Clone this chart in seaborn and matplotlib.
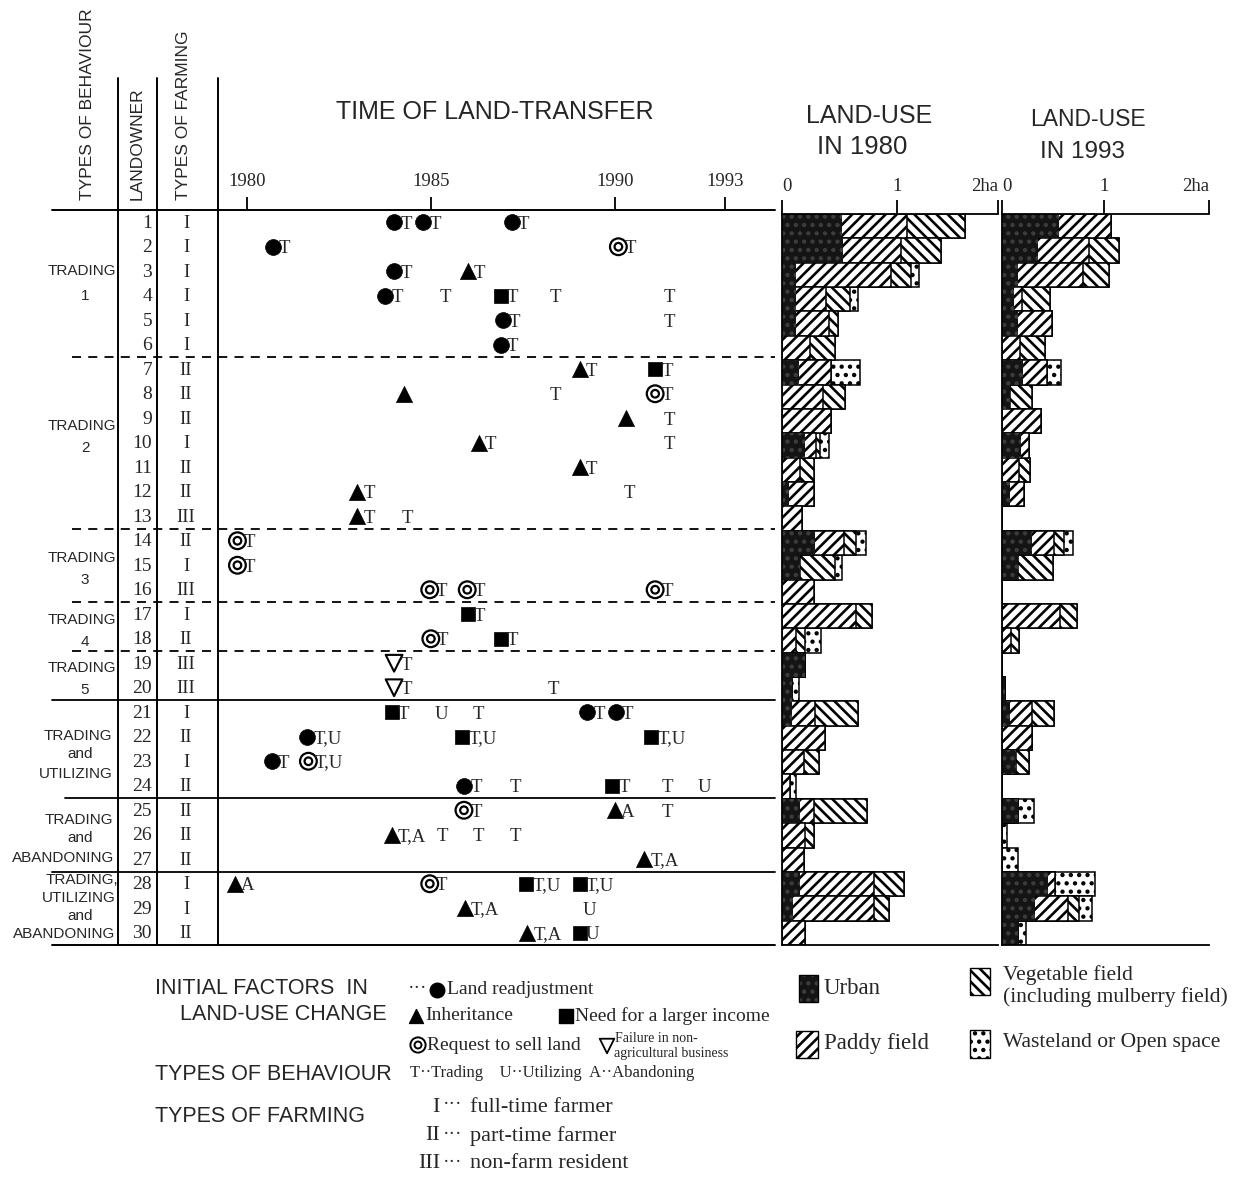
import numpy as np
import pandas as pd
import matplotlib
matplotlib.use("Agg")
import matplotlib.pyplot as plt
import seaborn as sns
from matplotlib.patches import Rectangle

# ---------------- data ----------------
rows = [str(i) for i in range(1, 31)]
farming = ["I", "I", "I", "I", "I", "I",
           "II", "II", "II", "I", "II", "II", "III",
           "II", "I", "III",
           "I", "II",
           "III", "III",
           "I", "II", "I", "II",
           "II", "II", "II",
           "I", "I", "II"]

group_names = ["TRADING 1", "TRADING 2", "TRADING 3", "TRADING 4", "TRADING 5",
               "TRADING and UTILIZING", "TRADING and ABANDONING",
               "TRADING, UTILIZING and ABANDONING"]
group_last_row = [6, 13, 16, 18, 20, 24, 27, 30]

# events: landowner row, year, initial factor, behaviour label
ev_row = [1, 1, 1,
          2, 2,
          3, 3,
          4, 4, 4, 4, 4,
          5, 5,
          6,
          7, 7,
          8, 8, 8,
          9, 9,
          10, 10,
          11,
          12, 12,
          13, 13,
          14,
          15,
          16, 16, 16,
          17,
          18, 18,
          19,
          20, 20,
          21, 21, 21, 21, 21,
          22, 22, 22,
          23, 23,
          24, 24, 24, 24, 24,
          25, 25, 25,
          26, 26, 26, 26,
          27,
          28, 28, 28, 28,
          29, 29,
          30, 30]
ev_year = [1984.0, 1984.8, 1987.2,
           1980.7, 1990.1,
           1984.0, 1986.0,
           1983.75, 1985.4, 1986.9, 1988.4, 1991.5,
           1986.95, 1991.5,
           1986.9,
           1989.05, 1991.1,
           1984.27, 1988.4, 1991.1,
           1990.3, 1991.5,
           1986.3, 1991.5,
           1989.05,
           1983.0, 1990.4,
           1983.0, 1984.36,
           1979.74,
           1979.74,
           1984.97, 1985.99, 1991.1,
           1986.0,
           1985.0, 1986.9,
           1984.0,
           1984.0, 1988.34,
           1983.93, 1985.3, 1986.3, 1989.25, 1990.03,
           1981.64, 1985.86, 1991.0,
           1980.67, 1981.67,
           1985.9, 1987.3, 1989.93, 1991.43, 1992.45,
           1985.9, 1990.0, 1991.43,
           1983.93, 1985.3, 1986.3, 1987.3,
           1990.8,
           1979.67, 1984.97, 1987.6, 1989.05,
           1985.92, 1989.3,
           1987.62, 1989.05]
ev_factor = ["LR", "LR", "LR",
             "LR", "RS",
             "LR", "IN",
             "LR", "", "NI", "", "",
             "LR", "",
             "LR",
             "IN", "NI",
             "IN", "", "RS",
             "IN", "",
             "IN", "",
             "IN",
             "IN", "",
             "IN", "",
             "RS",
             "RS",
             "RS", "RS", "RS",
             "NI",
             "RS", "NI",
             "FB",
             "FB", "",
             "NI", "", "", "LR", "LR",
             "LR", "NI", "NI",
             "LR", "RS",
             "LR", "", "NI", "", "",
             "RS", "IN", "",
             "IN", "", "", "",
             "IN",
             "IN", "RS", "NI", "NI",
             "IN", "",
             "IN", "NI"]
ev_label = ["T", "T", "T",
            "T", "T",
            "T", "T",
            "T", "T", "T", "T", "T",
            "T", "T",
            "T",
            "T", "T",
            "", "T", "T",
            "", "T",
            "T", "T",
            "T",
            "T", "T",
            "T", "T",
            "T",
            "T",
            "T", "T", "T",
            "T",
            "T", "T",
            "T",
            "T", "T",
            "T", "U", "T", "T", "T",
            "T,U", "T,U", "T,U",
            "T", "T,U",
            "T", "T", "T", "T", "U",
            "T", "A", "T",
            "T,A", "T", "T", "T",
            "T,A",
            "A", "T", "T,U", "T,U",
            "T,A", "U",
            "T,A", "U"]

# land use (ha) per landowner, 1980
urban_1980 = [0.52, 0.53, 0.12, 0.12, 0.12, 0.00, 0.15, 0.00, 0.00, 0.20,
              0.00, 0.06, 0.00, 0.29, 0.16, 0.00, 0.00, 0.00, 0.20, 0.09,
              0.09, 0.00, 0.00, 0.00, 0.16, 0.00, 0.00, 0.16, 0.10, 0.00]
paddy_1980 = [0.57, 0.51, 0.83, 0.26, 0.29, 0.24, 0.28, 0.36, 0.43, 0.10,
              0.16, 0.22, 0.17, 0.25, 0.00, 0.28, 0.64, 0.12, 0.00, 0.00,
              0.20, 0.37, 0.19, 0.07, 0.12, 0.20, 0.19, 0.64, 0.70, 0.20]
veg_1980 = [0.50, 0.34, 0.17, 0.21, 0.08, 0.22, 0.00, 0.19, 0.00, 0.03,
            0.12, 0.00, 0.00, 0.10, 0.30, 0.00, 0.14, 0.08, 0.00, 0.00,
            0.37, 0.00, 0.13, 0.00, 0.46, 0.08, 0.00, 0.26, 0.13, 0.00]
waste_1980 = [0.00, 0.00, 0.07, 0.07, 0.00, 0.00, 0.25, 0.00, 0.00, 0.08,
              0.00, 0.00, 0.00, 0.09, 0.06, 0.00, 0.00, 0.14, 0.00, 0.06,
              0.00, 0.00, 0.00, 0.05, 0.00, 0.00, 0.00, 0.00, 0.00, 0.00]

# land use (ha) per landowner, 1993
urban_1993 = [0.56, 0.35, 0.16, 0.12, 0.16, 0.00, 0.21, 0.08, 0.00, 0.19,
              0.00, 0.08, 0.00, 0.29, 0.16, 0.00, 0.00, 0.00, 0.00, 0.03,
              0.08, 0.00, 0.14, 0.00, 0.16, 0.00, 0.00, 0.45, 0.32, 0.16]
paddy_1993 = [0.51, 0.50, 0.63, 0.08, 0.33, 0.18, 0.23, 0.00, 0.38, 0.07,
              0.17, 0.14, 0.00, 0.22, 0.00, 0.00, 0.57, 0.09, 0.00, 0.00,
              0.21, 0.29, 0.00, 0.00, 0.00, 0.00, 0.00, 0.07, 0.33, 0.00]
veg_1993 = [0.00, 0.30, 0.26, 0.27, 0.00, 0.24, 0.00, 0.21, 0.00, 0.00,
            0.10, 0.00, 0.00, 0.10, 0.34, 0.00, 0.17, 0.08, 0.00, 0.00,
            0.22, 0.00, 0.12, 0.00, 0.00, 0.00, 0.00, 0.00, 0.11, 0.00]
waste_1993 = [0.00, 0.00, 0.00, 0.00, 0.00, 0.00, 0.14, 0.00, 0.00, 0.00,
              0.00, 0.00, 0.00, 0.09, 0.00, 0.00, 0.00, 0.00, 0.00, 0.00,
              0.00, 0.00, 0.00, 0.00, 0.15, 0.05, 0.16, 0.39, 0.12, 0.08]

time_ticks = [1980, 1985, 1990, 1993]

# ---------------- style ----------------
sns.set_theme(style="white")
SANS = ["Liberation Sans", "DejaVu Sans"]
SERIF = ["Liberation Serif", "DejaVu Serif", "DejaVu Sans"]
plt.rcParams["font.family"] = SANS
plt.rcParams["hatch.linewidth"] = 1.9
plt.rcParams["axes.linewidth"] = 1.3

W, H = 1235, 1177
fig = plt.figure(figsize=(W / 100, H / 100), dpi=100)
fig.patch.set_facecolor("white")

URBAN_FC, URBAN_HC, URBAN_HATCH = "#141414", "#3c3c3c", ".."


def add_ax(l, t, r, b, z=1):
    a = fig.add_axes([l / W, 1 - b / H, (r - l) / W, (b - t) / H])
    a.set_zorder(z)
    a.patch.set_alpha(0)
    return a


# overlay axes in pixel coordinates (for frame lines, headers, legend)
ov = fig.add_axes([0, 0, 1, 1])
ov.set_zorder(0)
ov.set_xlim(0, W)
ov.set_ylim(H, 0)
ov.axis("off")

LW = 1.4
for x in (118, 157, 218):
    ov.plot([x, x], [78, 945], color="black", lw=LW)
ov.plot([52, 775], [210, 210], color="black", lw=LW)
ov.plot([52, 775], [945, 945], color="black", lw=LW)

# column headers
ov.text(88, 200, "TYPES OF BEHAVIOUR", rotation=90, ha="center", va="bottom", fontsize=12.5)
ov.text(137, 200, "LANDOWNER", rotation=90, ha="center", va="bottom", fontsize=12.5)
ov.text(183, 200, "TYPES OF FARMING", rotation=90, ha="center", va="bottom", fontsize=12.5)
ov.text(495, 112, "TIME OF LAND-TRANSFER", ha="center", va="center", fontsize=18)
ov.text(869, 116, "LAND-USE", ha="center", va="center", fontsize=18)
ov.text(862, 147, "IN 1980", ha="center", va="center", fontsize=18.5)
ov.text(1088, 120, "LAND-USE", ha="center", va="center", fontsize=16.5)
ov.text(1082, 152, "IN 1993", ha="center", va="center", fontsize=17.5)

# ---------------- timeline ----------------
TL_L, TL_R = 218, 775
tl = add_ax(TL_L, 210, TL_R, 945)
px_per_year = (725 - 247) / 13.0
tl.set_xlim(1980 - (247 - TL_L) / px_per_year, 1980 + (TL_R - 247) / px_per_year)
tl.set_ylim(29.5, -0.5)
for s in tl.spines.values():
    s.set_visible(False)
tl.xaxis.set_ticks_position("top")
tl.set_xticks(time_ticks)
tl.set_xticklabels([str(t) for t in time_ticks], family=SERIF, fontsize=13.5)
tl.tick_params(axis="x", which="both", top=True, bottom=False, labeltop=True,
               labelbottom=False, direction="out", length=9.5, width=1.3, pad=5,
               color="black")
tl.set_yticks([])

df = pd.DataFrame({"row": np.array(ev_row) - 1, "year": ev_year,
                   "factor": ev_factor, "label": ev_label})

filled = {"LR": ("o", 130), "IN": ("^", 135), "NI": ("s", 105)}
for f, (m, s) in filled.items():
    sub = df[df["factor"] == f]
    sns.scatterplot(data=sub, x="year", y="row", marker=m, s=s, color="black",
                    edgecolor="black", linewidth=0.5, ax=tl, legend=False, zorder=3)
# request to sell land: double circle
sub = df[df["factor"] == "RS"]
sns.scatterplot(data=sub, x="year", y="row", marker="o", s=145, color="black",
                edgecolor="black", linewidth=1.6, ax=tl, legend=False, zorder=3)
tl.collections[-1].set_facecolor("none")
sns.scatterplot(data=sub, x="year", y="row", marker="o", s=30, color="black",
                edgecolor="black", linewidth=1.6, ax=tl, legend=False, zorder=3)
tl.collections[-1].set_facecolor("none")
# failure in non-agricultural business: open down triangle
sub = df[df["factor"] == "FB"]
sns.scatterplot(data=sub, x="year", y="row", marker="v", s=145, color="black",
                edgecolor="black", linewidth=1.5, ax=tl, legend=False, zorder=3)
tl.collections[-1].set_facecolor("none")

for r, y, f, lab in zip(df["row"], df["year"], df["factor"], df["label"]):
    if not lab:
        continue
    if f:
        tl.annotate(lab, (y, r), xytext=(4.5, -1.3), textcoords="offset points",
                    ha="left", va="center", fontsize=13.5, family=SERIF)
    else:
        tl.annotate(lab, (y, r), xytext=(0, -1.3), textcoords="offset points",
                    ha="center", va="center", fontsize=13.5, family=SERIF)

tl.set_xlabel("")
tl.set_ylabel("")

# left columns (landowner numbers and farming types), aligned with rows
ytr = tl.get_yaxis_transform()


def afrac(px):
    return (px - TL_L) / (TL_R - TL_L)


for i, (num, ft) in enumerate(zip(rows, farming)):
    tl.text(afrac(152), i + 0.04, num, transform=ytr, ha="right", va="center",
            fontsize=14, family=SERIF, clip_on=False)
    tl.text(afrac(186), i + 0.04, ft, transform=ytr, ha="center", va="center",
            fontsize=13.5, family=SERIF, clip_on=False)

# separators between behaviour groups
sep_style = {6: ("dash", 72), 13: ("dash", 72), 16: ("dash", 72), 18: ("dash", 72),
             20: ("solid", 52), 24: ("solid", 65), 27: ("solid", 52)}
for last in group_last_row[:-1]:
    kind, x0 = sep_style[last]
    ls = (0, (5, 4)) if kind == "dash" else "-"
    tl.plot([afrac(x0), 1.0], [last - 0.5, last - 0.5], transform=ytr,
            color="black", lw=1.3, ls=ls, clip_on=False)

# group labels (line text, x centre px, row position)
group_layout = [
    [("TRADING", 82, 2.0), ("1", 85, 3.0)],
    [("TRADING", 82, 8.3), ("2", 85, 9.2)],
    [("TRADING", 82, 13.7), ("3", 85, 14.6)],
    [("TRADING", 82, 16.25), ("4", 85, 17.15)],
    [("TRADING", 82, 18.2), ("5", 85, 19.1)],
    [("TRADING", 78, 20.95), ("and", 80, 21.7), ("UTILIZING", 76, 22.5)],
    [("TRADING", 79, 24.4), ("and", 80, 25.15), ("ABANDONING", 63, 25.95)],
    [("TRADING,", 82, 26.85), ("UTILIZING", 79, 27.58), ("and", 80, 28.32),
     ("ABANDONING", 64, 29.07)],
]
for name, lines in zip(group_names, group_layout):
    for txt, xc, yr in lines:
        tl.text(afrac(xc), yr, txt, transform=ytr, ha="center", va="center",
                fontsize=11, clip_on=False, fontweight="medium")

# ---------------- land-use panels ----------------
def land_panel(l, r, xmax, u, p, v, w):
    ax = add_ax(l, 214, r, 945)
    u = np.array(u); p = np.array(p); v = np.array(v); w = np.array(w)
    layers = [(u + p + v + w, "white", "..", "black", 1.1),
              (u + p + v, "white", "\\\\\\", "black", 1.1),
              (u + p, "white", "///", "black", 1.1),
              (u, URBAN_FC, URBAN_HATCH, URBAN_HC, 0.0)]
    for vals, col, hatch, ec, lw in layers:
        sns.barplot(x=vals, y=rows, order=rows, orient="h", color=col,
                    saturation=1, width=1.0, edgecolor=ec, linewidth=lw,
                    errorbar=None, ax=ax, hatch=hatch)
    ax.set_xlim(0, xmax)
    ax.set_ylim(29.5, -0.5)
    ax.set_yticks([])
    ax.set_xlabel("")
    ax.set_ylabel("")
    ax.spines["right"].set_visible(False)
    for s in ("left", "top", "bottom"):
        ax.spines[s].set_visible(True)
        ax.spines[s].set_color("black")
        ax.spines[s].set_linewidth(1.3)
        ax.spines[s].set_zorder(5)
    ax.xaxis.set_ticks_position("top")
    ax.set_xticks([0, 1, xmax])
    labs = ax.set_xticklabels(["0", "1", "2ha"], family=SERIF, fontsize=13.5)
    labs[0].set_ha("left")
    labs[-1].set_ha("right")
    ax.tick_params(axis="x", top=True, bottom=False, labeltop=True,
                   labelbottom=False, direction="out", length=10, width=1.3,
                   pad=4, color="black")
    return ax


land_panel(782, 998, 1.88, urban_1980, paddy_1980, veg_1980, waste_1980)
land_panel(1002, 1209, 2.03, urban_1993, paddy_1993, veg_1993, waste_1993)

# ---------------- legend ----------------
H_FS = 15.5
ov.text(155, 988, "INITIAL FACTORS  IN", ha="left", va="center", fontsize=H_FS)
ov.text(180, 1015, "LAND-USE CHANGE", ha="left", va="center", fontsize=H_FS)
ov.text(155, 1075, "TYPES OF BEHAVIOUR", ha="left", va="center", fontsize=H_FS)
ov.text(155, 1117, "TYPES OF FARMING", ha="left", va="center", fontsize=H_FS)

I_FS = 14
ov.text(408, 988, "···", ha="left", va="center", fontsize=I_FS, family=SERIF)
ov.scatter([437], [990], marker="o", s=110, color="black")
ov.text(447, 990, "Land readjustment", ha="left", va="center", fontsize=I_FS, family=SERIF)
ov.scatter([416], [1016], marker="^", s=100, color="black")
ov.text(425, 1016, "Inheritance", ha="left", va="center", fontsize=I_FS, family=SERIF)
ov.scatter([566], [1016], marker="s", s=100, color="black")
ov.text(575, 1016, "Need for a larger income", ha="left", va="center", fontsize=I_FS, family=SERIF)
ov.scatter([418], [1045], marker="o", s=120, facecolors="none", edgecolors="black", linewidths=1.4)
ov.scatter([418], [1045], marker="o", s=25, facecolors="none", edgecolors="black", linewidths=1.4)
ov.text(427, 1045, "Request to sell land", ha="left", va="center", fontsize=I_FS, family=SERIF)
ov.scatter([607], [1046], marker="v", s=110, facecolors="none", edgecolors="black", linewidths=1.3)
ov.text(615, 1038, "Failure in non-", ha="left", va="center", fontsize=10, family=SERIF)
ov.text(614, 1053, "agricultural business", ha="left", va="center", fontsize=10, family=SERIF)
ov.text(410, 1073, "T··Trading    U··Utilizing  A··Abandoning", ha="left", va="center",
        fontsize=12, family=SERIF)

F_FS = 16
for yy, num, txt in [(1107, "I", "full-time farmer"), (1136, "II", "part-time farmer"),
                     (1164, "III", "non-farm resident")]:
    ov.text(440, yy, num, ha="right", va="center", fontsize=F_FS, family=SERIF)
    ov.text(443, yy - 2, "···", ha="left", va="center", fontsize=14, family=SERIF)
    ov.text(470, yy, txt, ha="left", va="center", fontsize=F_FS, family=SERIF)

ov.add_patch(Rectangle((799, 975), 19, 27, facecolor=URBAN_FC, edgecolor=URBAN_HC,
                       lw=0, hatch=URBAN_HATCH))
ov.add_patch(Rectangle((799, 975), 19, 27, fill=False, edgecolor="black", lw=1.0))
ov.text(824, 989, "Urban", ha="left", va="center", fontsize=16.5, family=SERIF)
ov.add_patch(Rectangle((796, 1031), 22, 27, facecolor="white", edgecolor="black",
                       lw=1.0, hatch="///"))
ov.text(824, 1044, "Paddy field", ha="left", va="center", fontsize=16.5, family=SERIF)
ov.add_patch(Rectangle((970, 968), 20, 27, facecolor="white", edgecolor="black",
                       lw=1.0, hatch="\\\\\\"))
ov.text(1003, 975, "Vegetable field", ha="left", va="center", fontsize=15.5, family=SERIF)
ov.text(1003, 997, "(including mulberry field)", ha="left", va="center", fontsize=15.5, family=SERIF)
ov.add_patch(Rectangle((970, 1030), 20, 28, facecolor="white", edgecolor="black",
                       lw=1.0, hatch=".."))
ov.text(1003, 1043, "Wasteland or Open space", ha="left", va="center", fontsize=15.5, family=SERIF)

fig.savefig("out.png", dpi=100, facecolor="white")
